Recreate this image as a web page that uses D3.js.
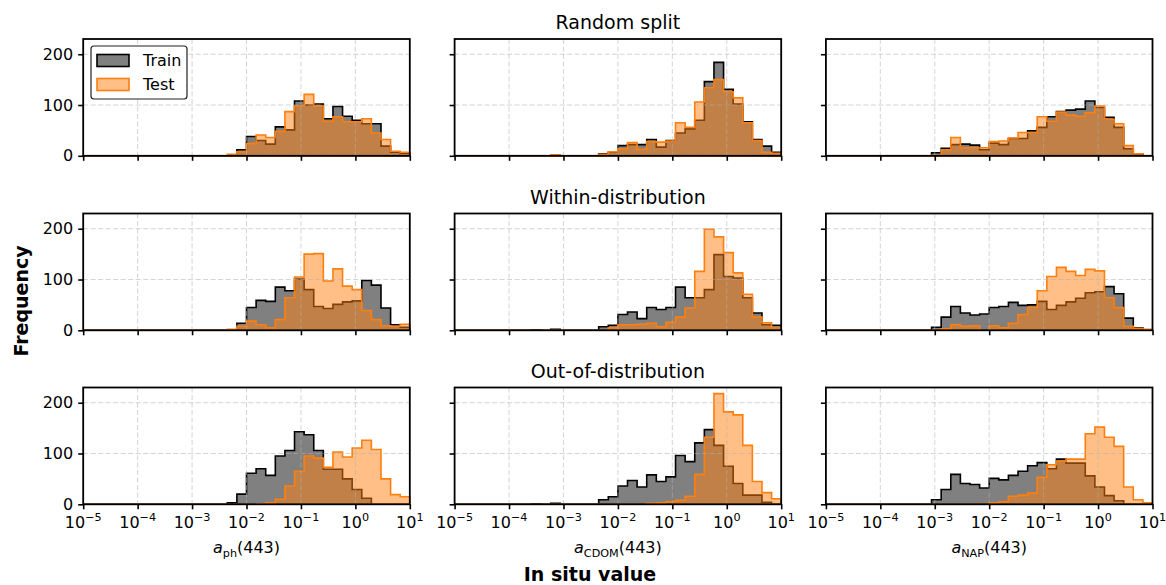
<!DOCTYPE html>
<html>
<head>
<meta charset="utf-8">
<script src="https://cdn.jsdelivr.net/npm/d3@7"></script>
<style>
  body { margin: 0; background: #fff; }
  svg { display: block; }
  text { font-family: "DejaVu Sans", sans-serif; fill: #000; }
</style>
</head>
<body>
<svg id="fig" width="1166" height="585"></svg>
<script>
// ---- data -------------------------------------------------------------
const splitTitles = ["Random split", "Within-distribution", "Out-of-distribution"];
const variableLabels = [
  { base: "a", sub: "ph", tail: "(443)" },
  { base: "a", sub: "CDOM", tail: "(443)" },
  { base: "a", sub: "NAP", tail: "(443)" }
];
const xTickExponents = [-5, -4, -3, -2, -1, 0, 1];
const yTickValues = [0, 100, 200];
const seriesNames = ["Train", "Test"];
// 34 log-spaced bins between 1e-5 and 1e1
const binLogMin = -5, binLogMax = 1, binCount = 34;

// counts per bin, random split
const randomAphTrain  = [0,0,0,0,0,0,0,0,0,0,0,0,0,0,0, 0,12,38,30,23,57,51,108,100,102,73,97,78,70,63,63,19,7,5];
const randomAphTest   = [0,0,0,0,0,0,0,0,0,0,0,0,0,0,0, 3,8,24,41,36,48,87,98,121,98,68,77,67,67,73,45,32,9,7];
const randomCdomTrain = [0,0,0,0,0,0,0,0,0,0,0,0,0,0,0, 4,7,20,22,22,32,17,30,45,53,70,146,184,131,102,67,32,19,7];
const randomCdomTest  = [0,0,0,0,0,0,0,0,0,0,2,0,0,0,0, 3,8,14,26,13,28,27,29,65,56,106,134,150,126,114,65,30,7,5];
const randomNapTrain  = [0,0,0,0,0,0,0,0,0,0,0, 6,15,22,23,21,12,25,22,34,34,49,56,77,87,90,92,108,95,76,56,14,4,0];
const randomNapTest   = [0,0,0,0,0,0,0,0,0,0,0, 1,12,36,16,16,16,28,29,35,46,46,77,68,86,80,78,85,98,72,63,20,4,0];

// counts per bin, within-distribution split
const withinAphTrain  = [0,0,0,0,0,0,0,0,0,0,0,0,0,0,0, 1,14,45,59,57,85,78,101,80,47,43,51,56,58,98,89,44,11,6];
const withinAphTest   = [0,0,0,0,0,0,0,0,0,0,0,0,0,0,0, 2,8,18,11,5,21,64,105,150,151,97,121,87,80,39,21,9,8,12];
const withinCdomTrain = [0,0,0,0,0,0,0,0,1,0,2,0,0,0,0, 7,10,31,36,23,45,41,45,85,64,64,80,149,106,103,64,34,11,10];
const withinCdomTest  = [0,0,0,0,0,0,0,0,0,0,0,0,0,0,0, 0,5,11,11,12,14,7,16,26,44,116,199,184,153,113,71,26,15,5];
const withinNapTrain  = [0,0,0,0,0,0,0,0,0,0,0, 6,26,47,34,30,32,45,47,55,49,50,57,41,49,56,63,74,76,86,72,24,5,0];
const withinNapTest   = [0,0,0,0,0,0,0,0,0,0,0, 0,3,11,8,9,0,9,5,14,31,45,78,106,124,116,108,120,117,64,45,8,4,2];

// counts per bin, out-of-distribution split
const oodAphTrain  = [0,0,0,0,0,0,0,0,0,0,0,0,0,0,0, 3,20,61,70,57,95,106,143,137,106,69,69,50,29,12,0,0,0,0];
const oodAphTest   = [0,0,0,0,0,0,0,0,0,0,0,0,0,0,0, 0,0,0,1,3,10,36,65,95,91,73,103,93,111,126,108,50,19,15];
const oodCdomTrain = [0,0,0,0,0,0,0,0,1,0,2,0,0,0,0, 9,15,36,47,34,58,45,54,96,84,121,147,116,75,41,18,18,4,0];
const oodCdomTest  = [0,0,0,0,0,0,0,0,0,0,0,0,0,0,0, 0,0,0,0,0,2,3,5,8,16,59,132,218,182,176,116,45,23,11];
const oodNapTrain  = [0,0,0,0,0,0,0,0,0,0,0, 9,29,59,41,39,32,51,48,57,65,76,82,70,89,81,81,56,34,17,7,0,0,0];
const oodNapTest   = [0,0,0,0,0,0,0,0,0,0,0, 0,0,0,0,0,0,3,5,16,18,22,53,78,85,89,89,139,152,132,114,34,9,3];

const panels = [
  [[randomAphTrain, randomAphTest], [randomCdomTrain, randomCdomTest], [randomNapTrain, randomNapTest]],
  [[withinAphTrain, withinAphTest], [withinCdomTrain, withinCdomTest], [withinNapTrain, withinNapTest]],
  [[oodAphTrain, oodAphTest], [oodCdomTrain, oodCdomTest], [oodNapTrain, oodNapTest]]
];

// ---- layout -----------------------------------------------------------
const colX = [83.2, 454.6, 825.9];
const rowY = [39, 213.5, 387.5];
const panelW = 326.6, panelH = 116.8;
const yMax = 230;

const trainFill = "#808080", trainEdge = "#000000";
const testFill = "rgba(255,127,14,0.5)", testEdge = "#ff7f0e";
const edgeWidth = 1.6;

const svg = d3.select("#fig");
const edges = d3.range(binCount + 1).map(k => Math.pow(10, binLogMin + k * (binLogMax - binLogMin) / binCount));

function stepPoints(counts, x, y) {
  const pts = [[x(edges[0]), y(0)]];
  counts.forEach((c, k) => {
    pts.push([x(edges[k]), y(c)]);
    pts.push([x(edges[k + 1]), y(c)]);
  });
  pts.push([x(edges[binCount]), y(0)]);
  return pts;
}

const lineGen = d3.line();

for (let r = 0; r < 3; r++) {
  for (let c = 0; c < 3; c++) {
    const x = d3.scaleLog().domain([1e-5, 1e1]).range([colX[c], colX[c] + panelW]);
    const y = d3.scaleLinear().domain([0, yMax]).range([rowY[r] + panelH, rowY[r]]);
    const g = svg.append("g");
    const [train, test] = panels[r][c];

    // filled step histograms
    g.append("path")
      .attr("d", lineGen(stepPoints(train, x, y)) + "Z")
      .attr("fill", trainFill)
      .attr("stroke", trainEdge)
      .attr("stroke-width", edgeWidth)
      .attr("stroke-linejoin", "miter");
    g.append("path")
      .attr("d", lineGen(stepPoints(test, x, y)) + "Z")
      .attr("fill", testFill)
      .attr("stroke", testEdge)
      .attr("stroke-width", edgeWidth)
      .attr("stroke-linejoin", "miter");

    // dashed grid
    const grid = g.append("g")
      .attr("stroke", "#b0b0b0")
      .attr("stroke-opacity", 0.55)
      .attr("stroke-width", 1)
      .attr("stroke-dasharray", "5,2.5");
    xTickExponents.forEach(e => {
      const xv = x(Math.pow(10, e));
      grid.append("line").attr("x1", xv).attr("x2", xv).attr("y1", rowY[r]).attr("y2", rowY[r] + panelH);
    });
    yTickValues.forEach(v => {
      grid.append("line").attr("x1", colX[c]).attr("x2", colX[c] + panelW).attr("y1", y(v)).attr("y2", y(v));
    });

    // axes with outward ticks; labels only on outer panels
    const xAxis = d3.axisBottom(x)
      .tickValues(xTickExponents.map(e => Math.pow(10, e)))
      .tickSize(5).tickPadding(4)
      .tickFormat(() => "");
    const xg = g.append("g").attr("transform", `translate(0,${rowY[r] + panelH})`).call(xAxis);
    xg.select(".domain").remove();
    xg.selectAll(".tick line").attr("stroke", "#000").attr("stroke-width", 1.6);

    const yAxis = d3.axisLeft(y).tickValues(yTickValues).tickSize(5).tickPadding(5)
      .tickFormat(c === 0 ? d3.format("d") : () => "");
    const yg = g.append("g").attr("transform", `translate(${colX[c]},0)`).call(yAxis);
    yg.select(".domain").remove();
    yg.selectAll(".tick line").attr("stroke", "#000").attr("stroke-width", 1.6);
    yg.selectAll(".tick text")
      .attr("font-size", 16)
      .attr("font-family", "DejaVu Sans")
      .attr("fill", "#000");

    if (r === 2) {
      xTickExponents.forEach(e => {
        const t = g.append("text")
          .attr("x", x(Math.pow(10, e)))
          .attr("y", rowY[r] + panelH + 24)
          .attr("text-anchor", "middle")
          .attr("font-size", 16);
        t.append("tspan").text("10");
        t.append("tspan")
          .attr("dy", -7)
          .attr("font-size", 11.2)
          .text(e < 0 ? "\u2212" + Math.abs(e) : String(e));
      });
      const lab = variableLabels[c];
      const xl = g.append("text")
        .attr("x", colX[c] + panelW / 2)
        .attr("y", rowY[r] + panelH + 49)
        .attr("text-anchor", "middle")
        .attr("font-size", 16);
      xl.append("tspan").attr("font-style", "italic").text(lab.base);
      xl.append("tspan").attr("dy", 3.5).attr("font-size", 11.2).text(lab.sub);
      xl.append("tspan").attr("dy", -3.5).text(lab.tail);
    }

    // frame
    g.append("rect")
      .attr("x", colX[c]).attr("y", rowY[r])
      .attr("width", panelW).attr("height", panelH)
      .attr("fill", "none").attr("stroke", "#000").attr("stroke-width", 1.8);
  }
  // row title over the middle column
  svg.append("text")
    .attr("x", colX[1] + panelW / 2)
    .attr("y", rowY[r] - 10)
    .attr("text-anchor", "middle")
    .attr("font-size", 19)
    .text(splitTitles[r]);
}

// legend in first panel
const leg = svg.append("g");
leg.append("rect")
  .attr("x", 91).attr("y", 46).attr("width", 96).attr("height", 53)
  .attr("rx", 3).attr("fill", "#fff").attr("stroke", "#222").attr("stroke-width", 1.2);
[[trainFill, trainEdge], [testFill, testEdge]].forEach(([fill, stroke], i) => {
  const yy = 54.5 + i * 24;
  leg.append("rect")
    .attr("x", 97).attr("y", yy).attr("width", 32).attr("height", 12)
    .attr("fill", fill).attr("stroke", stroke).attr("stroke-width", edgeWidth);
  leg.append("text")
    .attr("x", 143).attr("y", yy + 11.5)
    .attr("font-size", 16)
    .text(seriesNames[i]);
});

// figure-level labels
svg.append("text")
  .attr("x", 590).attr("y", 581)
  .attr("text-anchor", "middle")
  .attr("font-size", 19).attr("font-weight", "bold")
  .text("In situ value");
svg.append("text")
  .attr("transform", "translate(28,301) rotate(-90)")
  .attr("text-anchor", "middle")
  .attr("font-size", 19).attr("font-weight", "bold")
  .text("Frequency");
</script>
</body>
</html>
